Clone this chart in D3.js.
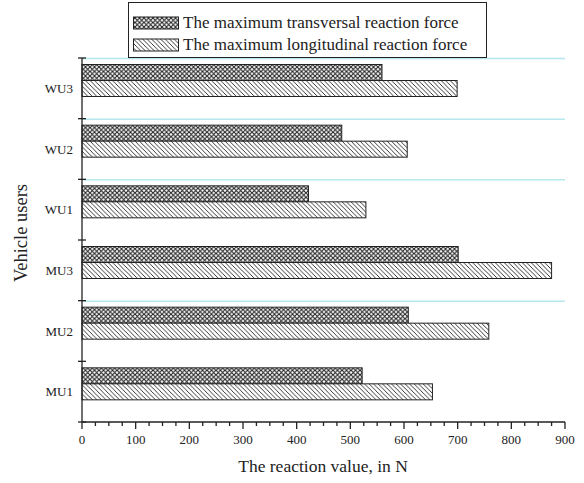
<!DOCTYPE html>
<html>
<head>
<meta charset="utf-8">
<script src="https://cdn.jsdelivr.net/npm/d3@7"></script>
<style>
  body { margin: 0; background: #fff; }
  text { font-family: "Liberation Serif", "Times New Roman", serif; fill: #222; }
</style>
</head>
<body>
<div id="chart"></div>
<script>
// data
const users = ["WU3", "WU2", "WU1", "MU3", "MU2", "MU1"];
const seriesNames = ["The maximum transversal reaction force", "The maximum longitudinal reaction force"];
const transversal = [559, 484, 422, 701, 608, 522];
const longitudinal = [699, 606, 529, 875, 758, 653];
const xTicks = [0, 100, 200, 300, 400, 500, 600, 700, 800, 900];
const gridRows = ["WU3", "WU2", "WU1", "MU2"];

const svg = d3.select('#chart').append('svg').attr('width', 584).attr('height', 483);

const defs = svg.append('defs');
const cross = defs.append('pattern').attr('id', 'cross')
    .attr('patternUnits', 'userSpaceOnUse').attr('width', 4.5).attr('height', 4.5);
cross.append('rect').attr('width', 4.5).attr('height', 4.5).attr('fill', '#fff');
cross.append('path').attr('d', 'M0,0 L4.5,4.5 M4.5,0 L0,4.5')
    .attr('stroke', '#222').attr('stroke-width', 1.1);
const hatch = defs.append('pattern').attr('id', 'hatch')
    .attr('patternUnits', 'userSpaceOnUse').attr('width', 4.5).attr('height', 4.5);
hatch.append('rect').attr('width', 4.5).attr('height', 4.5).attr('fill', '#fff');
hatch.append('path').attr('d', 'M-1,-1 L5.5,5.5 M3.5,-1 L5.5,1 M-1,3.5 L1,5.5')
    .attr('stroke', '#222').attr('stroke-width', 0.9);
const fills = ['url(#cross)', 'url(#hatch)'];

const x = d3.scaleLinear().domain([0, 900]).range([82, 565]);
const y = d3.scaleBand().domain(users).range([58, 422]);
const inner = d3.scaleBand().domain([0, 1]).range([6.5, 38.5]);

// faint cyan lines at band tops
svg.selectAll('.grid')
    .data(gridRows)
    .enter().append('line')
    .attr('x1', x(0)).attr('x2', x(900))
    .attr('y1', d => y(d) + 0.5).attr('y2', d => y(d) + 0.5)
    .attr('stroke', '#b5e8ec').attr('stroke-width', 1.5);

const rows = users.map((u, i) => ({ user: u, values: [transversal[i], longitudinal[i]] }));

const grp = svg.selectAll('.grp').data(rows).enter().append('g')
    .attr('transform', d => `translate(0,${y(d.user)})`);
grp.selectAll('rect')
    .data(d => d.values.map((v, k) => ({ v, k })))
    .enter().append('rect')
    .attr('x', x(0))
    .attr('y', d => inner(d.k))
    .attr('width', d => x(d.v) - x(0))
    .attr('height', inner.bandwidth())
    .attr('fill', d => fills[d.k])
    .attr('stroke', '#222')
    .attr('stroke-width', 1);

// x axis
const xAxis = svg.append('g').attr('transform', `translate(0,${y.range()[1]})`);
xAxis.append('line').attr('x1', x(0)).attr('x2', x(900)).attr('stroke', '#222').attr('stroke-width', 1.3);
xAxis.selectAll('.minor').data(d3.range(0, 901, 25)).enter().append('line')
    .attr('x1', d => x(d)).attr('x2', d => x(d))
    .attr('y1', 0).attr('y2', d => d % 100 === 0 ? 7 : 4)
    .attr('stroke', '#222').attr('stroke-width', 1.3);
xAxis.selectAll('.lbl').data(xTicks).enter().append('text')
    .attr('x', d => x(d)).attr('y', 22)
    .attr('text-anchor', 'middle').attr('font-size', 13)
    .text(d => d);

// y axis
const yAxis = svg.append('g');
yAxis.append('line').attr('x1', x(0)).attr('x2', x(0))
    .attr('y1', y.range()[0]).attr('y2', y.range()[1]).attr('stroke', '#222').attr('stroke-width', 1.3);
const bounds = users.map(u => y(u)).concat([y.range()[1]]);
yAxis.selectAll('.tk').data(bounds).enter().append('line')
    .attr('x1', x(0) - 4).attr('x2', x(0) + 4)
    .attr('y1', d => d).attr('y2', d => d)
    .attr('stroke', '#222').attr('stroke-width', 1.3);
yAxis.selectAll('.cat').data(users).enter().append('text')
    .attr('x', 73).attr('y', d => y(d) + y.bandwidth() / 2 + 4.5)
    .attr('text-anchor', 'end').attr('font-size', 13)
    .text(d => d);

// axis titles
svg.append('text').attr('x', 323).attr('y', 472)
    .attr('text-anchor', 'middle').attr('font-size', 17.5)
    .text('The reaction value, in N');
svg.append('text').attr('transform', 'translate(27,233) rotate(-90)')
    .attr('text-anchor', 'middle').attr('font-size', 18.5)
    .text('Vehicle users');

// legend
const legend = svg.append('g');
legend.append('rect').attr('x', 128.5).attr('y', 2.5).attr('width', 358).attr('height', 55)
    .attr('fill', '#fff').attr('stroke', '#222').attr('stroke-width', 1);
seriesNames.forEach((name, k) => {
    const ly = 17 + k * 22;
    legend.append('rect').attr('x', 133.5).attr('y', ly).attr('width', 45).attr('height', 12)
        .attr('fill', fills[k]).attr('stroke', '#222').attr('stroke-width', 1);
    legend.append('text').attr('x', 183).attr('y', ly + 11).attr('font-size', 17).text(name);
});
</script>
</body>
</html>
